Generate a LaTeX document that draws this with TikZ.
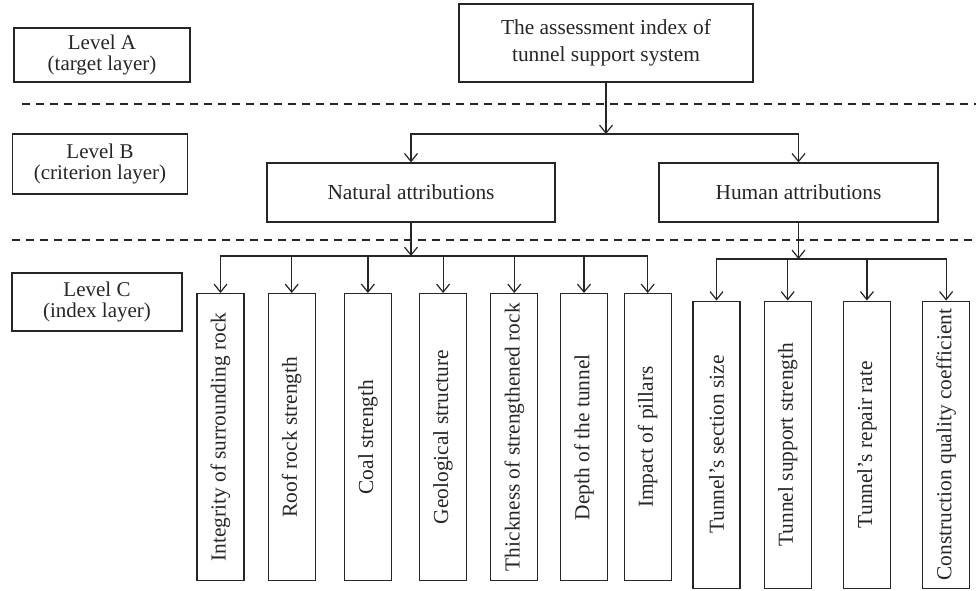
\documentclass[tikz,border=0pt]{standalone}
\usepackage{fontspec}
\setmainfont{Liberation Serif}
\usepackage{graphicx}
\usetikzlibrary{arrows.meta,positioning}

\begin{document}
\begin{tikzpicture}[x=0.5pt,y=-0.5pt,>={Straight Barb[length=4pt,width=6.5pt]},line width=0.6pt,color=black!85]
  \tikzstyle{level}=[rectangle,draw,align=center,inner sep=0pt,font=\fontsize{10.5}{10.5}\selectfont]
  \tikzstyle{crit}=[rectangle,draw,align=center,inner sep=0pt,font=\fontsize{10.7}{13.5}\selectfont]
  \tikzstyle{index}=[rectangle,draw,inner sep=0pt,minimum width=23.5pt,minimum height=143.5pt,font=\fontsize{10.7}{13}\selectfont]
  \tikzstyle{layerline}=[dash pattern=on 4pt off 3pt]

  \useasboundingbox (0,0) rectangle (976,590);

  % level labels
  \node [level,minimum width=88pt,minimum height=27pt] (lvA) at (102,55) {Level A\\(target layer)};
  \node [level,minimum width=87.5pt,minimum height=30pt] (lvB) at (100,164) {Level B\\(criterion layer)};
  \node [level,minimum width=85pt,minimum height=29pt] (lvC) at (97,302) {Level C\\(index layer)};

  \draw [layerline] (22,104) -- (976,104);
  \draw [layerline] (12,240) -- (976,240);

  % target and criteria
  \node [crit,minimum width=147pt,minimum height=39pt] (goal) at (606,43) {The assessment index of\\tunnel support system};
  \node [crit,minimum width=144pt,minimum height=29.5pt] (nat) at (411,192.5) {Natural attributions};
  \node [crit,minimum width=139.5pt,minimum height=29.5pt] (hum) at (798.5,192.5) {Human attributions};

  % natural indexes
  \node [index,anchor=north] (integ) at (220.5,293) {\rotatebox{90}{Integrity of surrounding rock}};
  \node [index,right=11.5pt of integ] (roof) {\rotatebox{90}{Roof rock strength}};
  \node [index,right=14pt of roof] (coal) {\rotatebox{90}{Coal strength}};
  \node [index,right=13.5pt of coal] (geo) {\rotatebox{90}{Geological structure}};
  \node [index,right=11.5pt of geo] (thick) {\rotatebox{90}{Thickness of strengthened rock}};
  \node [index,right=10.75pt of thick] (depth) {\rotatebox{90}{Depth of the tunnel}};
  \node [index,right=7.75pt of depth] (pillar) {\rotatebox{90}{Impact of pillars}};

  % human indexes
  \node [index,anchor=north] (sect) at (716.5,300.5) {\rotatebox{90}{Tunnel's section size}};
  \node [index,right=11.5pt of sect] (supp) {\rotatebox{90}{Tunnel support strength}};
  \node [index,right=15.5pt of supp] (repair) {\rotatebox{90}{Tunnel's repair rate}};
  \node [index,right=15.5pt of repair] (constr) {\rotatebox{90}{Construction quality coefficient}};

  % connectors
  \coordinate (goaljoin) at (606,134);
  \draw [->] (goal) -- (goaljoin);
  \draw [->] (goaljoin) -| (nat);
  \draw [->] (goaljoin) -| (hum);

  \coordinate (natjoin) at (411,256);
  \draw [->] (nat) -- (natjoin);
  \draw [->] (natjoin) -| (integ);
  \draw [->] (natjoin) -| (roof);
  \draw [->] (natjoin) -| (coal);
  \draw [->] (natjoin) -| (geo);
  \draw [->] (natjoin) -| (thick);
  \draw [->] (natjoin) -| (depth);
  \draw [->] (natjoin) -| (pillar);

  \coordinate (humjoin) at (798.5,259);
  \draw [->] (hum) -- (humjoin);
  \draw [->] (humjoin) -| (sect);
  \draw [->] (humjoin) -| (supp);
  \draw [->] (humjoin) -| (repair);
  \draw [->] (humjoin) -| (constr);
\end{tikzpicture}
\end{document}
